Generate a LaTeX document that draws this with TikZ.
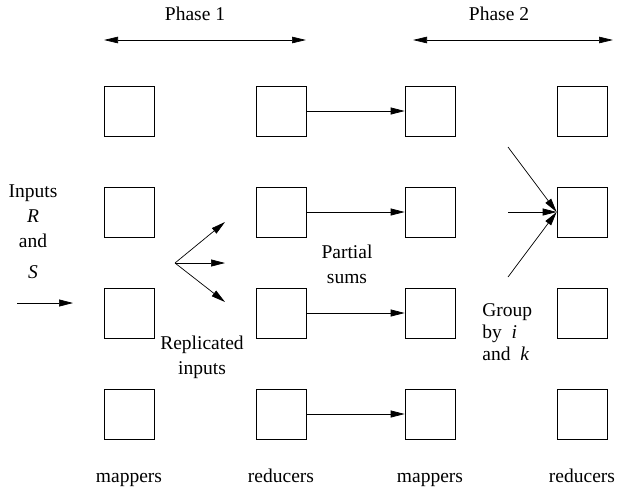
\documentclass[tikz,border=0pt]{standalone}
\usepackage{fontspec}
\setmainfont{Liberation Serif}
\usetikzlibrary{arrows.meta}

\tikzset{
  taskbox/.style={draw, minimum size=50pt, inner sep=0pt},
  lbl/.style={inner sep=0pt, font=\fontsize{19.5}{25}\selectfont},
  flow/.style={-{Triangle[length=14pt,width=7pt]}},
  phasearrow/.style={{Triangle[length=14pt,width=6.5pt]}-{Triangle[length=14pt,width=6.5pt]}},
}

\begin{document}
\begin{tikzpicture}[x=1pt,y=-1pt,line width=0.7pt]
  \useasboundingbox (0,0) rectangle (621,491);

  % four columns of tasks, one row at a time
  \foreach \r/\y in {1/111,2/212,3/313,4/414}{
    \node[taskbox] (mapA\r) at (129,\y) {};
    \node[taskbox] (redA\r) at (281,\y) {};
    \node[taskbox] (mapB\r) at (430,\y) {};
    \node[taskbox] (redB\r) at (582,\y) {};
    \draw[flow] (redA\r.east) -- (mapB\r.west);
  }

  % phases
  \node[lbl, anchor=base] (ph1) at (195,20) {Phase 1};
  \node[lbl, anchor=base] (ph2) at (499,20) {Phase 2};
  \coordinate (ph1l) at (104,40);
  \coordinate (ph1r) at (306,40);
  \coordinate (ph2l) at (413,40);
  \coordinate (ph2r) at (613,40);
  \draw[phasearrow] (ph1l) -- (ph1r);
  \draw[phasearrow] (ph2l) -- (ph2r);

  % inputs
  \node[lbl, align=center, anchor=north] (inputs) at (33,184) {Inputs\\\textit{R}\\and\\[6pt]\textit{S}};
  \coordinate (in1) at (17,303);
  \coordinate (in2) at (73,303);
  \draw[flow] (in1) -- (in2);

  % replication
  \coordinate (fork) at (175,263);
  \foreach \t/\y in {a/222,b/263,c/302}{
    \coordinate (rep\t) at (225,\y);
    \draw[flow] (fork) -- (rep\t);
  }
  \node[lbl, align=center, anchor=north] (repl) at (202,335.5) {Replicated\\inputs};
  \node[lbl, align=center, anchor=north] (psums) at (347,244.5) {Partial\\sums};

  % grouping
  \foreach \g/\y in {a/147,b/212,c/277}{
    \coordinate (grp\g) at (508,\y);
    \draw[flow] (grp\g) -- (redB2.west);
  }
  \node[lbl, align=left, anchor=north west, font=\fontsize{19.5}{22}\selectfont] (grp) at (482,303.5)
    {Group\\by\hspace{0.5em}\textit{i}\\and\hspace{0.5em}\textit{k}};

  % labels under the columns
  \node[lbl, anchor=base] (lbA1) at (mapA4 |- 0,482) {mappers};
  \node[lbl, anchor=base] (lbA2) at (redA4 |- 0,482) {reducers};
  \node[lbl, anchor=base] (lbB1) at (mapB4 |- 0,482) {mappers};
  \node[lbl, anchor=base] (lbB2) at (redB4 |- 0,482) {reducers};
\end{tikzpicture}
\end{document}
